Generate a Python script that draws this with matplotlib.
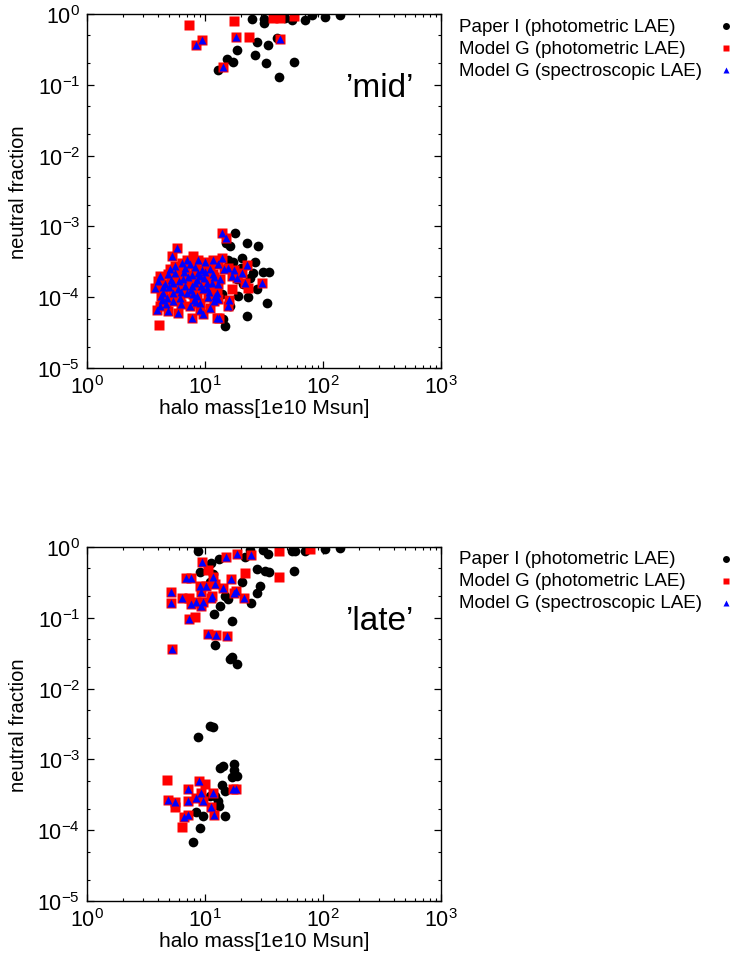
import matplotlib
matplotlib.use("Agg")
import matplotlib.pyplot as plt
from matplotlib.lines import Line2D
from matplotlib.ticker import LogLocator, NullFormatter

plt.rcParams["font.family"] = ["Liberation Sans", "DejaVu Sans"]
plt.rcParams["mathtext.default"] = "regular"
plt.rcParams["axes.unicode_minus"] = False

# ---- 'mid' panel -------------------------------------------------------
mid_paper_mass = [13.0, 15.3, 17.2, 18.6, 24.9, 31.6, 31.6, 27.7, 26.5, 32.7, 34.4, 40.5,
                  42.6, 47.6, 54.3, 56.8, 70.3, 80.2, 104, 139,
                  17.9, 22.6, 28.3, 16.3, 20.5, 25.7, 31.2, 35.1, 27.4, 33.3, 22.6, 14.8,
                  18.6, 19.2, 16.3, 14.3, 15.8, 21.1, 20.0, 24.1, 15.1, 23.3, 17.3, 26.5, 13.9]
mid_paper_frac = [0.163, 0.234, 0.21, 0.313, 0.85, 0.86, 0.75, 0.40, 0.26, 0.20, 0.37, 0.46,
                  0.128, 0.88, 0.83, 0.21, 0.83, 0.96, 0.91, 0.96,
                  8.0e-4, 5.9e-4, 5.3e-4, 5.3e-4, 3.6e-4, 2.2e-4, 2.3e-4, 2.3e-4, 1.29e-4, 8.2e-5,
                  5.5e-5, 3.9e-5, 1.79e-4, 1.04e-4, 7.5e-5, 4.9e-5, 3.4e-4, 1.52e-4, 2.6e-4,
                  1.88e-4, 5.9e-4, 1.0e-4, 3.1e-4, 3.1e-4, 1.1e-4]

mid_spec_mass = [8.34, 9.49, 14.3, 18.3, 43.2,
                 13.9, 15.1, 13.9, 22.8, 30.2, 21.8, 15.8, 13.2, 16.8, 18.6, 13.0, 12.6,
                 5.75, 5.22, 6.77, 8.77, 10.0, 4.15, 5.05, 3.77, 4.43, 5.39, 6.55, 7.71,
                 8.77, 11.0, 10.3, 4.15, 4.89, 5.94, 7.46, 9.07, 9.68, 7.71, 12.2, 12.6,
                 6.14, 5.39, 4.73, 7.0, 8.51, 11.4,
                 5.9, 7.2, 8.2, 9.6, 10.6, 5.0, 6.3, 8.2, 11.8, 4.0, 4.6, 11.0, 7.0, 9.0,
                 5.6, 4.3, 14.4, 13.5,
                 6.0, 6.6, 7.6, 8.0, 9.3, 10.0, 10.9, 12.0, 4.4, 4.9, 5.4, 6.8, 7.4, 8.6,
                 9.9, 11.6, 12.8, 4.2, 5.2, 6.2, 7.8, 9.4, 10.4, 15.8, 17.5, 20.5, 6.4, 8.4,
                 4.7, 3.9, 9.0, 12.0, 5.6, 7.9, 13.0, 16.0]
mid_spec_frac = [0.37, 0.43, 0.18, 0.48, 0.45,
                 8.0e-4, 6.8e-4, 3.6e-4, 2.85e-4, 1.6e-4, 1.58e-4, 7.5e-5, 5.1e-5, 2.0e-4,
                 1.88e-4, 1.52e-4, 1.16e-4,
                 5.0e-4, 3.8e-4, 2.6e-4, 3.4e-4, 3.1e-4, 2.0e-4, 2.5e-4, 1.36e-4, 1.16e-4,
                 1.6e-4, 1.79e-4, 1.44e-4, 2.2e-4, 2.5e-4, 1.6e-4, 7.5e-5, 6.4e-5, 6.0e-5,
                 7.5e-5, 8.2e-5, 5.7e-5, 5.1e-5, 1.04e-4, 5.1e-5, 9.8e-5, 8.8e-5, 9.8e-5,
                 1.16e-4, 1.04e-4, 1.6e-4,
                 1.3e-4, 1.9e-4, 1.6e-4, 1.3e-4, 1.0e-4, 1.4e-4, 8.0e-5, 2.7e-4, 3.3e-4,
                 1.7e-4, 1.55e-4, 7.0e-5, 3.3e-4, 2.0e-4, 2.2e-4, 9.0e-5, 2.5e-4, 1.8e-4,
                 1.7e-4, 2.3e-4, 1.25e-4, 9.0e-5, 1.45e-4, 2.3e-4, 1.2e-4, 1.9e-4, 1.4e-4,
                 2.1e-4, 1.15e-4, 1.45e-4, 2.9e-4, 1.75e-4, 1.85e-4, 2.1e-4, 2.9e-4, 1.05e-4,
                 1.75e-4, 1.2e-4, 2.05e-4, 2.4e-4, 1.35e-4, 2.6e-4, 2.4e-4, 2.2e-4, 3.0e-4,
                 8.5e-5, 8.0e-5, 6.7e-5, 6.5e-5, 8.7e-5, 2.8e-4, 1.1e-4, 9.5e-5, 9.2e-5]

mid_phot_only_mass = [7.36, 17.7, 23.7, 37.7, 43.2, 56.8, 4.1, 7.96, 23.3, 16.8]
mid_phot_only_frac = [0.69, 0.79, 0.48, 0.88, 0.88, 0.93, 4.0e-5, 3.8e-4, 1.36e-4, 1.29e-4]

# ---- 'late' panel ------------------------------------------------------
late_paper_mass = [8.77, 13.2, 11.3, 9.14, 11.0, 27.4, 32.2, 35.1, 56.8, 29.2, 27.4, 24.7,
                   20.5, 15.8, 13.4, 12.0, 16.8, 12.2, 16.8, 16.3, 18.8, 21.8, 24.2, 31.2,
                   34.4, 54.3, 57.9, 70.3, 104, 139, 11.8, 14.8,
                   11.0, 11.8, 8.7,
                   14.3, 13.4, 17.5, 17.5, 16.8, 18.6, 13.9, 14.8, 13.0, 12.2, 13.2, 8.42,
                   9.68, 14.8, 9.14, 7.96, 11.0]
late_paper_frac = [0.89, 0.68, 0.60, 0.45, 0.32, 0.49, 0.46, 0.45, 0.46, 0.284, 0.223, 0.161,
                   0.317, 0.186, 0.148, 0.115, 0.089, 0.041, 0.0277, 0.0262, 0.0222, 0.73,
                   0.92, 0.91, 0.80, 0.89, 0.89, 0.87, 0.94, 0.98, 0.42, 0.20,
                   3.0e-3, 2.9e-3, 2.1e-3,
                   8.0e-4, 7.5e-4, 8.6e-4, 7.2e-4, 5.6e-4, 5.9e-4, 4.35e-4, 3.6e-4, 2.55e-4,
                   3.07e-4, 2.2e-4, 1.79e-4, 1.6e-4, 1.6e-4, 1.07e-4, 6.9e-5, 3.07e-4]

late_spec_mass = [18.6, 24.7, 15.1, 9.5, 6.9, 7.65, 11.8, 16.5, 9.0, 10.1, 12.1, 14.3, 18.3,
                  9.33, 5.2, 6.4, 8.4, 9.68, 11.3, 21.4, 17.5, 9.3, 7.65, 5.15, 7.36, 10.5,
                  12.3, 15.3, 5.28, 11.4,
                  8.89, 7.17, 4.89, 5.57, 7.17, 9.33, 11.8, 8.42, 9.68, 11.3, 7.17, 6.68,
                  12.0, 17.2, 18.3]
late_spec_frac = [0.80, 0.78, 0.72, 0.62, 0.36, 0.36, 0.377, 0.357, 0.284, 0.284, 0.296,
                  0.26, 0.24, 0.229, 0.229, 0.19, 0.166, 0.166, 0.19, 0.19, 0.223, 0.148,
                  0.157, 0.16, 0.096, 0.059, 0.0565, 0.056, 0.036, 0.205,
                  4.9e-4, 3.8e-4, 2.66e-4, 2.5e-4, 2.6e-4, 3.4e-4, 3.3e-4, 2.85e-4, 2.55e-4,
                  2.1e-4, 1.66e-4, 1.52e-4, 1.66e-4, 3.8e-4, 3.8e-4]

late_phot_only_mass = [42.6, 77.6, 42.6, 21.8, 10.7, 8.22, 7.36, 4.79, 5.57, 6.38, 10.0]
late_phot_only_frac = [0.87, 0.94, 0.377, 0.43, 0.48, 0.103, 0.193, 5.1e-4, 2.1e-4, 1.1e-4, 4.5e-4]

legend_labels = ["Paper I (photometric LAE)", "Model G (photometric LAE)",
                 "Model G (spectroscopic LAE)"]

W, H = 754, 954
fig = plt.figure(figsize=(W / 100, H / 100), dpi=100)


def panel(top_px, bm, bf, sm, sf, pm, pf, tag):
    ax = fig.add_axes([87 / W, 1 - (top_px + 354) / H, 354 / W, 354 / H])
    ax.plot(bm, bf, "o", color="black", ms=7, mec="none")
    ax.plot(sm + pm, sf + pf, "s", color="red", ms=7, mec="none")
    ax.plot(sm, sf, "^", color="blue", ms=6, mec="none")
    ax.set_xscale("log")
    ax.set_yscale("log")
    ax.set_xlim(1, 1000)
    ax.set_ylim(1e-5, 1)
    ax.yaxis.set_minor_locator(LogLocator(subs=(2.0, 5.0)))
    ax.yaxis.set_minor_formatter(NullFormatter())
    ax.xaxis.set_minor_formatter(NullFormatter())
    ax.tick_params(which="both", direction="in", top=True, right=True, labelsize=15.5, pad=5)
    ax.tick_params(which="major", length=5, width=0.9)
    ax.tick_params(which="minor", length=2.5, width=0.8)
    for s in ax.spines.values():
        s.set_linewidth(1.0)
    ax.set_xlabel("halo mass[1e10 Msun]", fontsize=15)
    ax.set_ylabel("neutral fraction", fontsize=14.5)
    ax.xaxis.set_label_coords(0.5, -0.084)
    ax.yaxis.set_label_coords(-0.167, 0.5)
    ax.text(0.732, 0.768, tag, transform=ax.transAxes, fontsize=24, va="baseline")

    # legend outside the axes, text left aligned, marker to the right
    styles = [("o", "black", 5), ("s", "red", 5), ("^", "blue", 4)]
    for i, (lab, (mk, col, ms)) in enumerate(zip(legend_labels, styles)):
        ypx = top_px + 12 + 22 * i
        fig.text(459 / W, 1 - ypx / H, lab, fontsize=13.5, va="center", ha="left")
        fig.add_artist(Line2D([726 / W], [1 - ypx / H], transform=fig.transFigure,
                              marker=mk, color=col, ms=ms, mec="none", ls="none"))
    return ax


panel(15, mid_paper_mass, mid_paper_frac, mid_spec_mass, mid_spec_frac,
      mid_phot_only_mass, mid_phot_only_frac, "\u2019mid\u2019")
panel(548, late_paper_mass, late_paper_frac, late_spec_mass, late_spec_frac,
      late_phot_only_mass, late_phot_only_frac, "\u2019late\u2019")

fig.savefig("out.png", dpi=100)
